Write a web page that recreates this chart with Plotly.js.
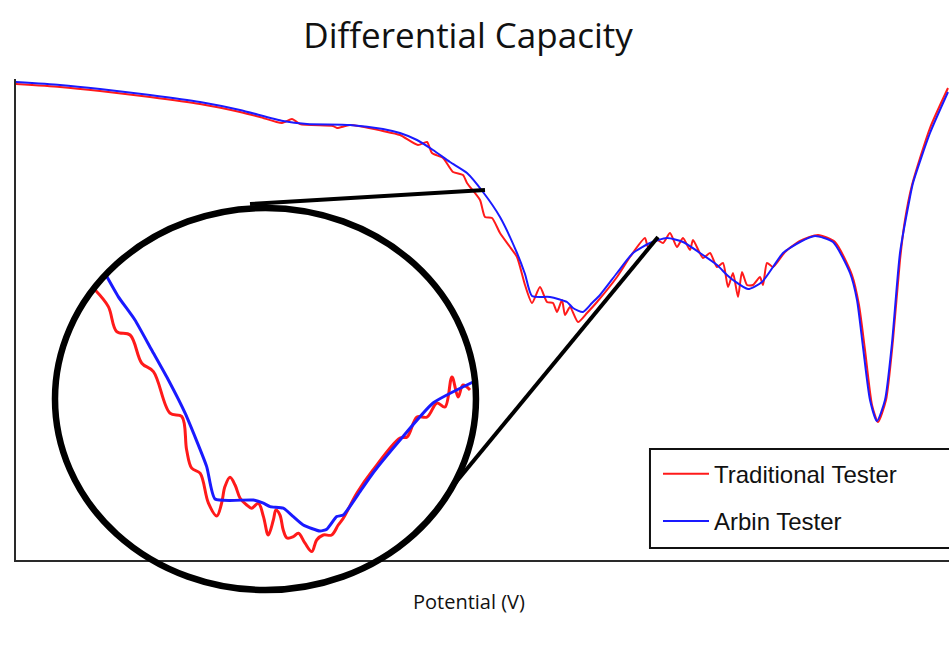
<!DOCTYPE html>
<html>
<head>
<meta charset="utf-8">
<script src="https://cdn.plot.ly/plotly-3.0.1.min.js"></script>
<style>html,body{margin:0;padding:0;background:#fff;}#chart{width:949px;height:664px;}</style>
</head>
<body>
<div id="chart"></div>
<script>
// Main curves (arbitrary units: potential position, dQ/dV)
var tradX = [0,45,85,135,185,225,245,267,277,285,318,322,335,368,385,403,412,417,428,438,448,452,465,470,477,485,495,502,510,517,525,532,538,542,547,550,555,563,572,582,602,615,630,633,642,648,655,662,668,675,678,688,695,702,708,713,718,723,727,732,738,745,748,752,758,770,785,803,820,837,844,850,857,863,871,878,885,890,897,915,933];
var tradY = [476,473,469,463,456,448,443,437,441,436,434,432,435,429,425,415,418,407,402,388,385,377,360,343,342,327,313,303,275,257,273,258,257,248,260,245,253,238,247,258,283,303,322,313,320,317,327,313,322,310,320,302,307,293,297,273,287,263,288,275,275,283,275,297,293,308,319,325,318,285,255,210,155,138,160,220,300,340,375,432,472];
var arbinX = [0,45,85,135,185,225,268,292,335,368,385,402,418,435,452,468,485,502,510,517,535,552,558,568,577,585,602,618,635,652,668,685,702,712,718,733,747,758,768,785,800,818,835,842,848,855,862,870,877,885,895,898,915,933];
var arbinY = [478,475,471,465,458,450,439,436,435,431,427,420,410,398,387,368,343,307,286,264,263,258,252,248,257,265,287,307,317,322,318,307,295,285,280,271,278,293,307,318,324,318,287,260,213,160,139,160,217,307,363,377,427,468];

// Magnified inset (same units, finer detail)
var insetTradX = [462.5,468.5,472.3,478.4,483.7,489,496.5,501.9,504.1,506.4,510.2,514,517.8,520,521.5,523.8,526.1,528.4,531.4,533.7,536.7,539,541.2,543.5,544.7,546.5,548,549.7,552.6,554.9,557.9,561,563.2,566.2,570,573,575.3,581.5,588.8,601.1,604.3,608.8,613.4,617.9,621.5,624.7,627.5,629.7,632.9];
var insetTradY = [368.5,360.2,347.7,346,331.9,327.7,306.9,305.2,288.5,279.4,276.9,261.9,255.5,262,270.2,274.9,271,264.4,261,259.4,261.9,255.2,246,253.5,258.5,256,248.5,244.5,245.2,246.9,241.9,237.7,243.5,246,246,251,254.4,267,278.5,294.5,295,305,305,312,310,325,315,321,318.5];
var insetArbinX = [467.8,473,480.6,488.2,495.8,503.4,513.2,517,534.4,539,542,548,552.6,557.1,564.7,567.8,572.3,575.3,582.9,588.8,601.1,616.1,634.3];
var insetArbinY = [375.2,365.2,353.5,338.5,323.5,306.9,280.2,264,263.5,261.9,260.2,259.4,255.2,251,248,248.9,255.2,256,267.7,277,293.5,312,322.5];

var seriesNames = ["Traditional Tester", "Arbin Tester"];
var seriesColors = ["#ff1a1a", "#1a1aff"];

var traces = [
  {x: tradX, y: tradY, name: seriesNames[0], mode: "lines", legendgroup: "a",
   line: {color: seriesColors[0], width: 2, shape: "spline", smoothing: 0.6}},
  {x: arbinX, y: arbinY, name: seriesNames[1], mode: "lines", legendgroup: "b",
   line: {color: seriesColors[1], width: 2, shape: "spline", smoothing: 0.6}},
  {x: insetTradX, y: insetTradY, xaxis: "x2", yaxis: "y2", mode: "lines", showlegend: false,
   line: {color: seriesColors[0], width: 3, shape: "spline", smoothing: 1}},
  {x: insetArbinX, y: insetArbinY, xaxis: "x2", yaxis: "y2", mode: "lines", showlegend: false,
   line: {color: seriesColors[1], width: 3, shape: "spline", smoothing: 0.5}}
];

var layout = {
  width: 949, height: 664,
  margin: {l: 16, r: 0, t: 79, b: 104},
  paper_bgcolor: "#fff", plot_bgcolor: "rgba(0,0,0,0)",
  showlegend: true,
  title: {text: "Differential Capacity", x: 0.4932, xanchor: "center", xref: "container",
          yref: "container", y: 0.9465, yanchor: "middle",
          font: {family: "Open Sans", size: 35, color: "#111"}},
  xaxis: {range: [1, 934], showgrid: false, zeroline: false, showticklabels: false, ticks: "",
          showline: true, linecolor: "#2a2a2a", linewidth: 2, fixedrange: true},
  yaxis: {range: [0, 481], showgrid: false, zeroline: false, showticklabels: false, ticks: "",
          showline: true, linecolor: "#2a2a2a", linewidth: 2, fixedrange: true},
  xaxis2: {domain: [0.0847, 0.4920], range: [462.45, 635.18], anchor: "y2", visible: false},
  yaxis2: {domain: [0, 0.6029], range: [233.5, 378.5], anchor: "x2", visible: false},
  legend: {x: 0.6881, xanchor: "left", y: 0.2253, yanchor: "top", bgcolor: "rgba(0,0,0,0)",
           borderwidth: 0, traceorder: "grouped", tracegroupgap: 13, itemwidth: 46,
           font: {family: "Liberation Sans", size: 24, color: "#111"}},
  annotations: [
    {text: "Potential (V)", xref: "paper", yref: "paper", x: 0.485, y: -0.0863,
     xanchor: "center", yanchor: "middle", showarrow: false,
     font: {family: "Open Sans", size: 20, color: "#111"}}
  ],
  shapes: [
    {type: "circle", xref: "paper", yref: "paper", x0: 0.0418, x1: 0.4930, y0: -0.0624, y1: 0.7318,
     line: {color: "#000", width: 6.5}},
    {type: "line", xref: "paper", yref: "paper", x0: 0.2508, y0: 0.7401, x1: 0.5027, y1: 0.7692,
     line: {color: "#000", width: 4}},
    {type: "line", xref: "paper", yref: "paper", x0: 0.4673, y0: 0.1518, x1: 0.6881, y1: 0.6715,
     line: {color: "#000", width: 4}},
    {type: "rect", xref: "paper", yref: "paper", x0: 0.6795, x1: 1.05, y0: 0.0249, y1: 0.2308,
     line: {color: "#111", width: 2}, fillcolor: "#fff", layer: "above"}
  ]
};

Plotly.newPlot("chart", traces, layout, {displayModeBar: false, staticPlot: true});
</script>
</body>
</html>
